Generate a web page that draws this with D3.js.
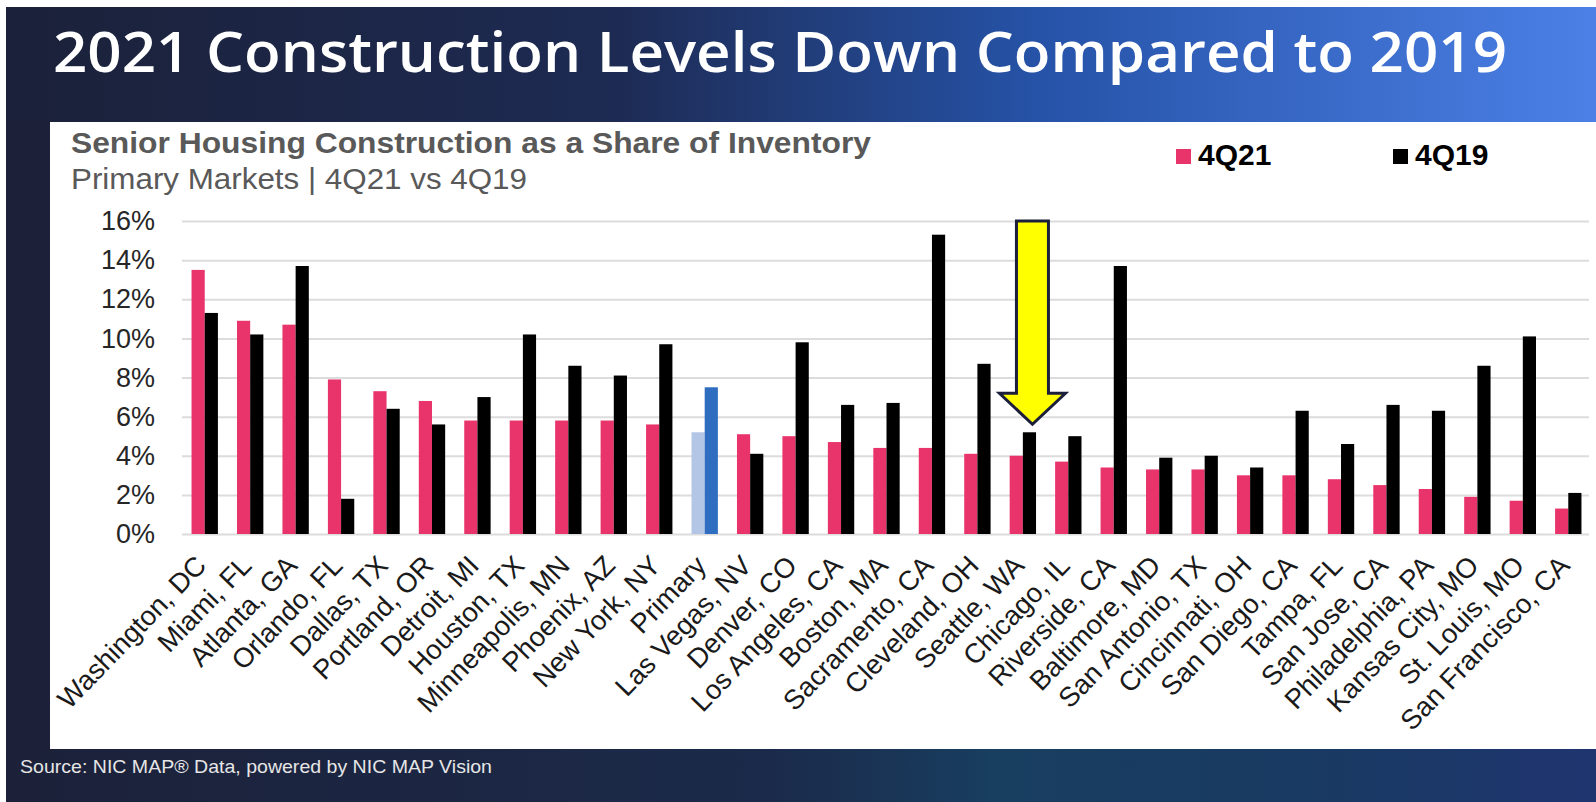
<!DOCTYPE html>
<html>
<head>
    <title>Senior Housing Construction</title>
    <style>
        body { margin: 0; background: #fff; }
        svg { display: block; }
        text { font-family: "Liberation Sans", Arial, sans-serif; }
    </style>
    <script src="https://cdn.jsdelivr.net/npm/d3@7"></script>
</head>
<body>
</body>

<script type="text/javascript">

    // data
    var markets = ['Washington, DC', 'Miami, FL', 'Atlanta, GA', 'Orlando, FL', 'Dallas, TX',
        'Portland, OR', 'Detroit, MI', 'Houston, TX', 'Minneapolis, MN', 'Phoenix, AZ',
        'New York, NY', 'Primary', 'Las Vegas, NV', 'Denver, CO', 'Los Angeles, CA',
        'Boston, MA', 'Sacramento, CA', 'Cleveland, OH', 'Seattle, WA', 'Chicago, IL',
        'Riverside, CA', 'Baltimore, MD', 'San Antonio, TX', 'Cincinnati, OH', 'San Diego, CA',
        'Tampa, FL', 'San Jose, CA', 'Philadelphia, PA', 'Kansas City, MO', 'St. Louis, MO',
        'San Francisco, CA'];
    var q21 = [13.5, 10.9, 10.7, 7.9, 7.3, 6.8, 5.8, 5.8, 5.8, 5.8, 5.6, 5.2, 5.1, 5.0, 4.7,
        4.4, 4.4, 4.1, 4.0, 3.7, 3.4, 3.3, 3.3, 3.0, 3.0, 2.8, 2.5, 2.3, 1.9, 1.7, 1.3];
    var q19 = [11.3, 10.2, 13.7, 1.8, 6.4, 5.6, 7.0, 10.2, 8.6, 8.1, 9.7, 7.5, 4.1, 9.8, 6.6,
        6.7, 15.3, 8.7, 5.2, 5.0, 13.7, 3.9, 4.0, 3.4, 6.3, 4.6, 6.6, 6.3, 8.6, 10.1, 2.1];
    var series = ['4Q21', '4Q19'];
    var yTicks = [0, 2, 4, 6, 8, 10, 12, 14, 16];
    var highlight = 'Seattle, WA';

    var W = 1596, H = 802;
    var colors = { '4Q21': '#e9336b', '4Q19': '#000000' };
    var primaryColors = { '4Q21': '#b4c6e6', '4Q19': '#2e6dbf' };

    var rows = markets.map(function(m, i) {
        return { market: m, values: [{ key: '4Q21', v: q21[i] }, { key: '4Q19', v: q19[i] }] };
    });

    var svg = d3.select('body').append('svg')
        .attr('width', W)
        .attr('height', H);

    // slide background
    var defs = svg.append('defs');
    var g1 = defs.append('linearGradient').attr('id', 'head').attr('x1', 0).attr('x2', 1).attr('y1', 0).attr('y2', 0);
    g1.append('stop').attr('offset', '0%').attr('stop-color', '#1b2139');
    g1.append('stop').attr('offset', '38%').attr('stop-color', '#1d2a52');
    g1.append('stop').attr('offset', '65%').attr('stop-color', '#2653a8');
    g1.append('stop').attr('offset', '100%').attr('stop-color', '#4c80e6');
    var g2 = defs.append('linearGradient').attr('id', 'foot').attr('x1', 0).attr('x2', 1).attr('y1', 0).attr('y2', 0);
    g2.append('stop').attr('offset', '0%').attr('stop-color', '#1c2139');
    g2.append('stop').attr('offset', '48%').attr('stop-color', '#1b2a4a');
    g2.append('stop').attr('offset', '62%').attr('stop-color', '#183e60');
    g2.append('stop').attr('offset', '82%').attr('stop-color', '#193a62');
    g2.append('stop').attr('offset', '100%').attr('stop-color', '#1f3570');

    svg.append('rect').attr('x', 6).attr('y', 7).attr('width', W - 6).attr('height', H - 7).attr('fill', 'url(#foot)');
    svg.append('rect').attr('x', 6).attr('y', 7).attr('width', W - 6).attr('height', 116).attr('fill', 'url(#head)');
    svg.append('rect').attr('x', 6).attr('y', 120).attr('width', 44).attr('height', 630).attr('fill', '#1c2139');

    svg.append('text')
        .attr('x', 53).attr('y', 72)
        .attr('textLength', 1454).attr('lengthAdjust', 'spacingAndGlyphs')
        .style('font-family', '"Open Sans", sans-serif')
        .style('font-weight', 600)
        .style('font-size', '56px')
        .style('fill', '#ffffff')
        .text('2021 Construction Levels Down Compared to 2019');

    // white chart panel
    svg.append('rect').attr('x', 50).attr('y', 122).attr('width', W - 50).attr('height', 627).attr('fill', '#ffffff');

    svg.append('text')
        .attr('x', 71).attr('y', 153)
        .attr('textLength', 800).attr('lengthAdjust', 'spacingAndGlyphs')
        .style('font-weight', 'bold').style('font-size', '30px').style('fill', '#595959')
        .text('Senior Housing Construction as a Share of Inventory');
    svg.append('text')
        .attr('x', 71).attr('y', 189)
        .attr('textLength', 456).attr('lengthAdjust', 'spacingAndGlyphs')
        .style('font-size', '29px').style('fill', '#595959')
        .text('Primary Markets | 4Q21 vs 4Q19');

    // scales
    var x0 = d3.scaleBand().domain(markets).range([182, 1591]).paddingInner(0.42).paddingOuter(0.21);
    var x1 = d3.scaleBand().domain(series).range([0, x0.bandwidth()]);
    var y = d3.scaleLinear().domain([0, 16]).range([534, 221]);

    // gridlines + y labels
    var yAxis = d3.axisLeft(y).tickValues(yTicks).tickSize(-(1589 - 182)).tickFormat(function(d) { return d + '%'; });
    var ga = svg.append('g').attr('transform', 'translate(182,0)').call(yAxis);
    ga.select('.domain').remove();
    ga.selectAll('.tick line').attr('stroke', '#dcdcdc').attr('stroke-width', 2);
    ga.selectAll('.tick text')
        .attr('x', -27)
        .style('font-family', '"Liberation Sans", Arial, sans-serif')
        .style('font-size', '27px').style('fill', '#262626');

    // bars
    var groups = svg.selectAll('g.market')
        .data(rows)
        .enter()
        .append('g')
        .attr('class', 'market')
        .attr('transform', function(d) { return 'translate(' + x0(d.market) + ',0)'; });

    groups.selectAll('rect')
        .data(function(d) { return d.values.map(function(v) { return { market: d.market, key: v.key, v: v.v }; }); })
        .enter()
        .append('rect')
        .attr('x', function(d) { return x1(d.key); })
        .attr('width', x1.bandwidth())
        .attr('y', function(d) { return y(d.v); })
        .attr('height', function(d) { return y(0) - y(d.v); })
        .style('fill', function(d) {
            return d.market === 'Primary' ? primaryColors[d.key] : colors[d.key];
        });

    // x labels rotated
    var xAxis = d3.axisBottom(x0).tickSize(0).tickPadding(0);
    var gx = svg.append('g').attr('transform', 'translate(0,534)').call(xAxis);
    gx.select('.domain').remove();
    gx.selectAll('.tick text')
        .attr('text-anchor', 'end')
        .attr('dy', 0)
        .attr('y', 0)
        .attr('transform', 'translate(3,33) rotate(-46)')
        .style('font-family', '"Liberation Sans", Arial, sans-serif')
        .style('font-size', '27.5px').style('fill', '#1a1a1a');

    // legend
    var legend = svg.selectAll('g.legend')
        .data(series)
        .enter()
        .append('g')
        .attr('class', 'legend')
        .attr('transform', function(d, i) { return 'translate(' + (1176 + i * 217) + ',0)'; });
    legend.append('rect')
        .attr('x', 0).attr('y', 149).attr('width', 15).attr('height', 15)
        .style('fill', function(d) { return colors[d]; });
    legend.append('text')
        .attr('x', 22).attr('y', 165)
        .style('font-weight', 'bold').style('font-size', '30px').style('fill', '#000')
        .text(function(d) { return d; });

    // yellow arrow pointing at the highlighted market
    var ax = x0(highlight) + x1('4Q19') + x1.bandwidth() / 2 + 3;
    var tipY = y(q19[markets.indexOf(highlight)]) - 8;
    var topY = y(16);
    var arrow = d3.path();
    arrow.moveTo(ax - 16, topY);
    arrow.lineTo(ax + 16, topY);
    arrow.lineTo(ax + 16, tipY - 31);
    arrow.lineTo(ax + 33, tipY - 31);
    arrow.lineTo(ax, tipY);
    arrow.lineTo(ax - 33, tipY - 31);
    arrow.lineTo(ax - 16, tipY - 31);
    arrow.closePath();
    svg.append('path')
        .attr('d', arrow.toString())
        .attr('fill', '#ffff00')
        .attr('stroke', '#1b1f3b')
        .attr('stroke-width', 3)
        .attr('stroke-linejoin', 'miter');

    svg.append('text')
        .attr('x', 20).attr('y', 773)
        .attr('textLength', 472).attr('lengthAdjust', 'spacingAndGlyphs')
        .style('font-size', '19px').style('fill', '#e6e6e6')
        .text('Source:  NIC MAP\u00AE Data, powered by NIC MAP Vision');

</script>
</html>
